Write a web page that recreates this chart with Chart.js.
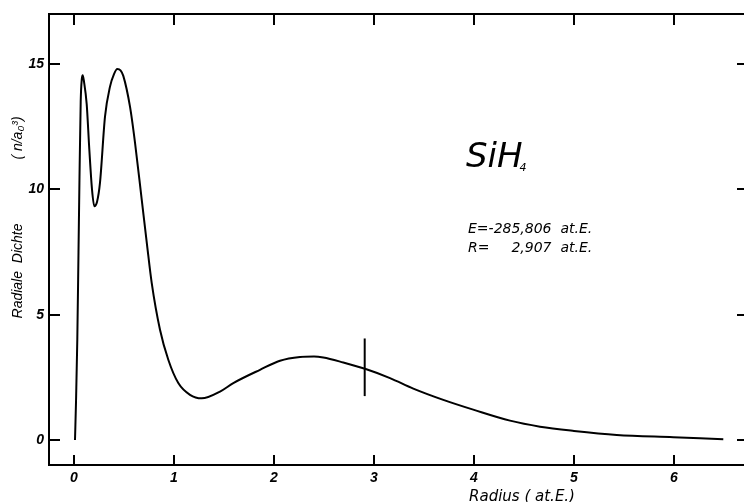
<!DOCTYPE html>
<html>
<head>
<meta charset="utf-8">
<script src="https://cdn.jsdelivr.net/npm/chart.js@4.4.0/dist/chart.umd.min.js"></script>
<style>
  html, body { margin: 0; padding: 0; background: #fff; }
  canvas { display: block; }
</style>
</head>
<body>
<canvas id="chart" width="744" height="502"></canvas>
<script>
// radial density of SiH4
const radius = [0.01, 0.02, 0.033, 0.045, 0.055, 0.067, 0.078, 0.087, 0.1, 0.127, 0.153, 0.18, 0.203,
  0.23, 0.26, 0.31, 0.36, 0.4, 0.433, 0.465, 0.493, 0.56, 0.61, 0.677, 0.73, 0.777, 0.86, 0.943,
  1.043, 1.16, 1.277, 1.46, 1.593, 1.86, 2.06, 2.26, 2.4, 2.493, 2.693, 2.917, 3.16, 3.393,
  3.693, 4.0, 4.36, 4.66, 5.0, 5.427, 5.993, 6.493];
const density = [0, 1.5, 4, 7.5, 10.5, 13.5, 14.4, 14.56, 14.3, 13.4, 11.6, 10.0, 9.33,
  9.5, 10.27, 12.9, 14.1, 14.6, 14.8, 14.75, 14.53, 13.3, 11.87, 9.6, 7.8, 6.27, 4.4, 3.2,
  2.27, 1.8, 1.66, 1.93, 2.27, 2.8, 3.16, 3.31, 3.33, 3.29, 3.09, 2.83, 2.47, 2.05,
  1.6, 1.2, 0.77, 0.53, 0.36, 0.2, 0.11, 0.03];

// vertical mark at R
const markerR = 2.907;
const markerY = [1.75, 4.05];

const xTicks = [0, 1, 2, 3, 4, 5, 6];
const yTicks = [0, 5, 10, 15];

const tickFont = { family: 'Liberation Sans', size: 14, style: 'italic', weight: 'bold' };

const frameTicks = {
  id: 'frameTicks',
  afterDraw(chart) {
    const { ctx, chartArea: a, scales: { x, y } } = chart;
    ctx.save();
    ctx.strokeStyle = '#000';
    ctx.lineWidth = 2;
    ctx.beginPath();
    // top border
    ctx.moveTo(a.left, a.top);
    ctx.lineTo(a.right, a.top);
    xTicks.forEach(v => {
      const px = Math.round(x.getPixelForValue(v));
      ctx.moveTo(px, a.bottom); ctx.lineTo(px, a.bottom - 10);
      ctx.moveTo(px, a.top); ctx.lineTo(px, a.top + 11);
    });
    yTicks.forEach(v => {
      const py = Math.round(y.getPixelForValue(v));
      ctx.moveTo(a.left, py); ctx.lineTo(a.left + 11, py);
      ctx.moveTo(a.right, py); ctx.lineTo(a.right - 7, py);
    });
    ctx.stroke();

    ctx.fillStyle = '#000';
    // axis titles
    ctx.font = 'italic 15px "DejaVu Sans"';
    ctx.textAlign = 'center';
    ctx.textBaseline = 'alphabetic';
    ctx.fillText('Radius ( at.E.)', 522, 501);

    ctx.save();
    ctx.translate(22, 0);
    ctx.rotate(-Math.PI / 2);
    ctx.font = 'italic 14px "Liberation Sans"';
    ctx.fillText('Radiale  Dichte', -271, 0);
    ctx.fillText('( n/a\u2080\u00b3)', -138, 0);
    ctx.restore();

    // molecule label
    ctx.textAlign = 'left';
    ctx.font = 'italic 34px "DejaVu Sans"';
    ctx.fillText('SiH', 466, 167);
    const w = ctx.measureText('SiH').width;
    ctx.font = 'italic 11px "DejaVu Sans"';
    ctx.fillText('4', 466 + w - 3, 171);

    ctx.font = 'italic 14px "DejaVu Sans"';
    const line1 = 'E=-285,806  at.E.';
    ctx.fillText(line1, 468, 233);
    const end = 468 + ctx.measureText(line1).width;
    ctx.fillText('R=', 468, 252);
    ctx.textAlign = 'right';
    ctx.fillText('2,907  at.E.', end, 252);
    ctx.restore();
  }
};

new Chart(document.getElementById('chart'), {
  type: 'line',
  data: {
    datasets: [{
      data: radius.map((r, i) => ({ x: r, y: density[i] })),
      borderColor: '#000',
      borderWidth: 2,
      pointRadius: 0,
      cubicInterpolationMode: 'monotone'
    }, {
      data: markerY.map(v => ({ x: markerR, y: v })),
      borderColor: '#000',
      borderWidth: 2,
      pointRadius: 0
    }]
  },
  options: {
    responsive: false,
    animation: false,
    layout: { padding: { top: 14, right: 0, left: 0, bottom: 0 } },
    plugins: { legend: { display: false }, tooltip: { enabled: false } },
    scales: {
      x: {
        type: 'linear',
        min: -0.25,
        max: 6.7,
        afterBuildTicks: s => { s.ticks = xTicks.map(v => ({ value: v })); },
        afterFit: s => { s.height = 37; },
        grid: { display: false, drawTicks: false, tickLength: 0 },
        border: { display: true, color: '#000', width: 2 },
        ticks: { font: tickFont, color: '#000', padding: 5, maxRotation: 0, autoSkip: false }
      },
      y: {
        type: 'linear',
        min: -1,
        max: 17,
        afterBuildTicks: s => { s.ticks = yTicks.map(v => ({ value: v })); },
        afterFit: s => { s.width = 49; },
        grid: { display: false, drawTicks: false, tickLength: 0 },
        border: { display: true, color: '#000', width: 2 },
        ticks: { font: tickFont, color: '#000', padding: 5, autoSkip: false }
      }
    }
  },
  plugins: [frameTicks]
});
</script>
</body>
</html>
